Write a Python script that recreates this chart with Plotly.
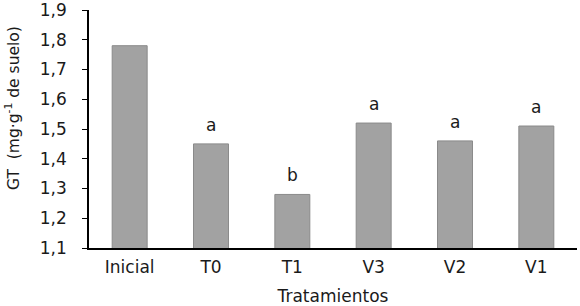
import plotly.graph_objects as go

categories = ["Inicial", "T0", "T1", "V3", "V2", "V1"]
values = [1.78, 1.45, 1.28, 1.52, 1.46, 1.51]
letters = ["", "a", "b", "a", "a", "a"]
y_ticks = [1.1, 1.2, 1.3, 1.4, 1.5, 1.6, 1.7, 1.8, 1.9]

FONT = "DejaVu Sans"
TXT = "#1a1a1a"

L, R, T, B = 89, 3, 10, 58
W, H = 580, 306
plot_w = W - L - R
plot_h = H - T - B

fig = go.Figure()
fig.add_trace(go.Bar(
    x=categories, y=values,
    marker=dict(color="#a2a2a2", line=dict(color="#8a8a8a", width=1)),
    width=0.43,
    hoverinfo="skip",
))

for c, v, t in zip(categories, values, letters):
    if t:
        fig.add_annotation(x=c, y=v, text=t, showarrow=False, yanchor="bottom",
                           yshift=7, font=dict(family=FONT, size=17, color=TXT))

# y-axis title as rotated annotation (positioned like the reference)
fig.add_annotation(
    xref="paper", yref="paper",
    x=(12 - L) / plot_w, y=(H - B - 108) / plot_h,
    xanchor="center", yanchor="middle",
    text="GT  (mg·g<sup>-1</sup> de suelo)", textangle=-90, showarrow=False,
    font=dict(family=FONT, size=15.5, color=TXT),
)

fig.update_layout(
    width=W, height=H,
    margin=dict(l=L, r=R, t=T, b=B, autoexpand=False),
    paper_bgcolor="white", plot_bgcolor="white",
    separators=",.",
    showlegend=False,
    font=dict(family=FONT, size=17, color=TXT),
    xaxis=dict(
        automargin=False,
        showline=True, linecolor="black", linewidth=1.5,
        ticks="outside", ticklen=3, tickcolor="rgba(0,0,0,0)",
        showgrid=False,
        tickfont=dict(family=FONT, size=17, color=TXT),
        title=dict(text="Tratamientos", font=dict(family=FONT, size=17, color=TXT), standoff=17),
    ),
    yaxis=dict(
        automargin=False,
        range=[1.1, 1.9], tickvals=y_ticks, tickformat=".1f",
        ticklabelstandoff=12,
        ticklabeloverflow="allow",
        showline=True, linecolor="black", linewidth=1.5,
        ticks="outside", ticklen=5, tickcolor="black", tickwidth=1,
        showgrid=False, zeroline=False,
        tickfont=dict(family=FONT, size=17, color=TXT),
    ),
)

fig.write_html("out.html", config={"displayModeBar": False},
               post_script="document.body.style.margin='0';")
